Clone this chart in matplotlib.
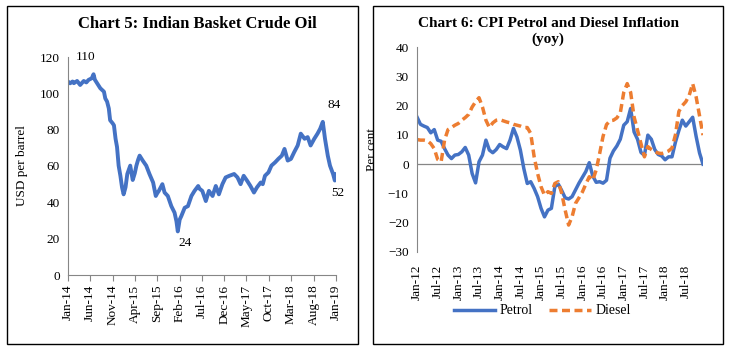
import numpy as np
import pandas as pd
import matplotlib
matplotlib.use("Agg")
import matplotlib.pyplot as plt
from matplotlib.patches import Rectangle

plt.rcParams['font.family'] = ['Liberation Serif', 'DejaVu Serif']

# ---- Chart 5: Indian basket crude oil (USD per barrel) ----
crude_dates = [
    "2014-01-01", "2014-01-15", "2014-02-01", "2014-02-10", "2014-03-04", "2014-03-25",
    "2014-04-18", "2014-05-06", "2014-05-21", "2014-06-12", "2014-06-24", "2014-07-03",
    "2014-07-18", "2014-08-09", "2014-09-03", "2014-09-12", "2014-09-24", "2014-10-06",
    "2014-10-15", "2014-11-01", "2014-11-10", "2014-11-21", "2014-12-01", "2014-12-12",
    "2014-12-24", "2015-01-04", "2015-01-15", "2015-01-28", "2015-02-09", "2015-03-01",
    "2015-03-10", "2015-03-18", "2015-04-01", "2015-04-12", "2015-04-24", "2015-05-04",
    "2015-05-25", "2015-06-18", "2015-07-10", "2015-08-04", "2015-08-22", "2015-09-01",
    "2015-09-12", "2015-10-06", "2015-10-21", "2015-11-12", "2015-12-06", "2015-12-28",
    "2016-01-10", "2016-01-19", "2016-02-01", "2016-02-12", "2016-03-06", "2016-03-28",
    "2016-04-21", "2016-05-12", "2016-06-06", "2016-06-15", "2016-07-04", "2016-07-28",
    "2016-08-18", "2016-09-12", "2016-10-04", "2016-10-25", "2016-11-18", "2016-12-10",
    "2017-01-04", "2017-02-06", "2017-03-01", "2017-03-22", "2017-04-12", "2017-05-06",
    "2017-05-28", "2017-06-21", "2017-07-12", "2017-08-06", "2017-08-20", "2017-09-04",
    "2017-09-28", "2017-10-18", "2017-11-12", "2017-12-04", "2017-12-28", "2018-01-15",
    "2018-02-06", "2018-02-28", "2018-03-22", "2018-04-15", "2018-05-06", "2018-06-01",
    "2018-06-22", "2018-07-12", "2018-08-06", "2018-08-28", "2018-09-15", "2018-10-03",
    "2018-10-18", "2018-11-06", "2018-11-21", "2018-12-12", "2018-12-24", "2019-01-01",
]
crude_price = [
    106.5, 105.5, 106.5, 105.6, 106.8, 104.6,
    106.8, 106.0, 107.4, 108.3, 110.5, 107.5,
    105.6, 102.8, 100.9, 97.2, 95.5, 91.7,
    85.2, 83.5, 82.4, 75.0, 70.5, 60.2,
    54.6, 48.3, 44.4, 48.3, 55.6, 60.2,
    56.0, 52.3, 56.0, 60.2, 63.5, 65.7,
    63.0, 60.2, 55.6, 50.9, 43.5, 45.0,
    46.3, 50.0, 45.4, 43.5, 37.9, 34.3,
    29.5, 24.0, 30.5, 32.4, 37.0, 37.9,
    43.5, 46.3, 49.0, 47.5, 46.3, 40.7,
    46.3, 43.5, 49.0, 44.4, 50.0, 53.7,
    54.6, 55.6, 53.7, 50.0, 54.6, 51.8,
    49.0, 45.4, 48.3, 50.9, 50.0, 54.6,
    56.5, 60.2, 62.0, 63.9, 65.7, 69.4,
    63.0, 63.9, 67.6, 71.3, 77.8, 75.0,
    75.9, 71.3, 75.0, 77.8, 80.5, 84.3,
    75.0, 65.7, 60.2, 55.6, 52.0, 55.5,
]
crude_ticks = ["Jan-14", "Jun-14", "Nov-14", "Apr-15", "Sep-15", "Feb-16", "Jul-16",
               "Dec-16", "May-17", "Oct-17", "Mar-18", "Aug-18", "Jan-19"]

# ---- Chart 6: CPI petrol and diesel inflation (yoy, per cent), Jan-12 to Dec-18 ----
petrol = [
    16.1, 13.6, 13.0, 12.5, 10.7, 11.8, 8.2, 7.8, 5.3, 3.1, 1.9, 3.1,
    3.3, 4.2, 5.7, 3.1, -3.2, -6.4, 0.8, 3.1, 8.2, 4.8, 3.9, 5.0,
    6.7, 5.9, 5.3, 8.2, 12.2, 9.3, 4.8, -1.5, -6.6, -6.0, -8.3, -11.1,
    -15.1, -18.0, -15.7, -15.1, -7.7, -6.8, -9.0, -11.5, -11.9, -11.1, -8.8, -6.5,
    -4.5, -2.5, 0.5, -4.0, -6.2, -6.0, -6.5, -5.5, 2.0, 4.5, 6.2, 8.5,
    13.3, 14.5, 19.0, 11.0, 8.5, 4.0, 3.0, 9.9, 8.5, 5.0, 3.3, 2.8,
    1.5, 2.5, 2.5, 7.5, 11.5, 15.0, 13.0, 14.5, 16.0, 9.5, 3.8, 0.0,
]
diesel = [
    8.4, 8.2, 8.2, 8.0, 7.0, 5.3, 1.6, 0.8, 8.2, 11.8, 12.5, 13.3,
    13.9, 15.0, 15.9, 17.0, 19.5, 21.3, 22.7, 19.5, 15.0, 12.5, 14.1, 15.0,
    15.2, 14.8, 14.4, 14.1, 13.6, 13.3, 13.0, 12.5, 12.5, 10.5, 2.5, -3.2,
    -7.7, -10.6, -9.4, -10.0, -6.6, -6.0, -10.0, -15.7, -20.8, -18.0, -13.4, -11.5,
    -9.5, -6.8, -4.3, -5.5, -2.0, 3.6, 9.5, 13.5, 14.8, 15.0, 15.8, 17.5,
    24.5, 27.5, 24.5, 16.1, 11.6, 7.0, 2.5, 6.0, 5.0, 4.2, 3.8, 3.6,
    4.0, 4.5, 5.5, 10.0, 18.0, 20.0, 21.3, 23.5, 27.5, 23.0, 16.5, 9.9,
]
cpi_ticks = ["Jan-12", "Jul-12", "Jan-13", "Jul-13", "Jan-14", "Jul-14", "Jan-15",
             "Jul-15", "Jan-16", "Jul-16", "Jan-17", "Jul-17", "Jan-18", "Jul-18"]

blue = "#4472C4"
orange = "#ED7D31"
grey = "#868686"

fig = plt.figure(figsize=(7.29, 3.5), dpi=100)

# two framed panels
for x0, x1 in [(7, 358), (373, 723)]:
    fig.patches.append(Rectangle((x0 / 729, 6 / 350), (x1 - x0) / 729, 338 / 350,
                                 transform=fig.transFigure, fill=False,
                                 edgecolor="black", linewidth=1.0))

# ---- left chart ----
ax1 = fig.add_axes([68 / 729, 75 / 350, 268 / 729, 218 / 350])
d = pd.to_datetime(crude_dates)
ax1.plot(d, crude_price, color=blue, linewidth=2.8, solid_joinstyle="round")
ax1.set_ylim(0, 120)
ax1.set_yticks(np.arange(0, 121, 20))
ax1.set_xlim(pd.Timestamp("2014-01-01"), pd.Timestamp("2019-01-01"))
ax1.set_xticks(pd.date_range("2014-01-01", "2019-01-01", freq="5MS"))
ax1.set_xticklabels(crude_ticks, rotation=90, fontsize=9.5)
ax1.tick_params(axis="y", length=0, labelsize=9.5, pad=6)
ax1.tick_params(axis="x", length=4, color=grey, pad=3)
for s in ["top", "right"]:
    ax1.spines[s].set_visible(False)
for s in ["left", "bottom"]:
    ax1.spines[s].set_color(grey)
ax1.set_ylabel("USD per barrel", fontsize=9.5)
ax1.yaxis.set_label_coords(-0.15, 0.5)
ax1.set_title("Chart 5: Indian Basket Crude Oil", fontsize=12, fontweight="bold",
              x=(197 - 68) / 268, pad=21)

# peak / trough labels
i_max = int(np.argmax(crude_price[:20]))
i_min = int(np.argmin(crude_price))
i_pk2 = int(np.argmax(crude_price[60:])) + 60
i_end = len(crude_price) - 2
ax1.annotate(f"{crude_price[i_max]:.0f}", (d[i_max], crude_price[i_max]), xytext=(-6, 8),
             textcoords="offset points", ha="center", va="bottom", fontsize=9.5)
ax1.annotate(f"{crude_price[i_min]:.0f}", (d[i_min], crude_price[i_min]), xytext=(5, -4),
             textcoords="offset points", ha="center", va="top", fontsize=9.5)
ax1.annotate(f"{crude_price[i_pk2]:.0f}", (d[i_pk2], crude_price[i_pk2]), xytext=(8, 8),
             textcoords="offset points", ha="center", va="bottom", fontsize=9.5)
ax1.annotate(f"{crude_price[i_end]:.0f}", (d[i_end], crude_price[i_end]), xytext=(2, -5),
             textcoords="offset points", ha="center", va="top", fontsize=9.5)

# ---- right chart ----
ax2 = fig.add_axes([417 / 729, 98 / 350, 286 / 729, 205 / 350])
m = np.arange(len(petrol))
ax2.plot(m, petrol, color=blue, linewidth=2.5, label="Petrol", solid_joinstyle="round")
ax2.plot(m, diesel, color=orange, linewidth=2.5, linestyle=(0, (2.3, 1.3)), label="Diesel")
ax2.axhline(0, color=grey, linewidth=0.9, zorder=0)
ax2.set_ylim(-30, 40)
ax2.set_yticks(np.arange(-30, 41, 10))
ax2.set_xlim(0, len(petrol) - 1)
ax2.set_xticks(np.arange(0, len(petrol), 6))
ax2.set_xticklabels(cpi_ticks, rotation=90, fontsize=9.5)
ax2.tick_params(axis="both", length=0, labelsize=9.5)
ax2.tick_params(axis="x", pad=9)
ax2.tick_params(axis="y", pad=6)
for s in ["top", "right", "bottom"]:
    ax2.spines[s].set_visible(False)
ax2.spines["left"].set_color(grey)
ax2.set_ylabel("Per cent", fontsize=9.5)
ax2.yaxis.set_label_coords(-0.135, 0.5)
ax2.set_title("Chart 6: CPI Petrol and Diesel Inflation\n(yoy)", fontsize=11,
              fontweight="bold", x=(548 - 417) / 286, pad=3, linespacing=1.2)
ax2.legend(loc="center", bbox_to_anchor=(542 / 729, 39 / 350),
           bbox_transform=fig.transFigure, ncol=2, frameon=False, fontsize=10,
           handlelength=3.0, columnspacing=1.2, handletextpad=0.3)

fig.savefig("out.png", dpi=100)
